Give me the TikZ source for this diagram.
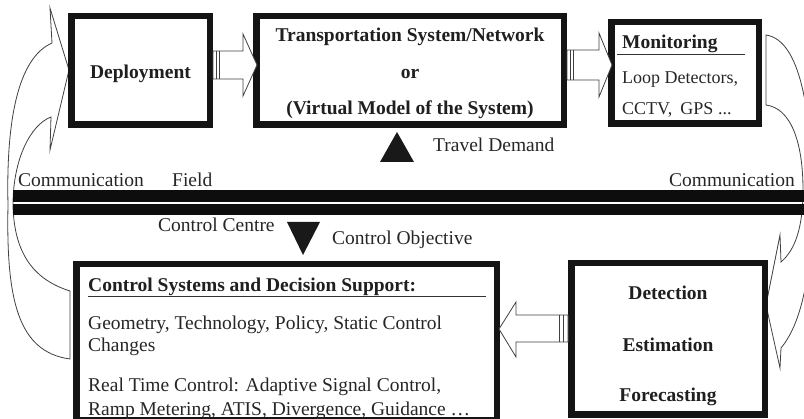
\documentclass[tikz,border=0pt]{standalone}
\usepackage{fontspec}
\setmainfont{Liberation Serif}
\begin{document}
\begin{tikzpicture}[x=1pt,y=-1pt,
  box/.style={draw=black!92, line width=6.5pt, inner sep=0pt, outer sep=0pt},
  hollow/.style={draw=black!75, line width=0.8pt, fill=white, line join=miter},
  stripe/.style={draw=black!75, line width=0.8pt},
  txt/.style={inner sep=0pt, text=black!85, font=\fontsize{19.5}{23}\selectfont},
  btxt/.style={inner sep=0pt, text=black!88, font=\fontsize{19.5}{23}\selectfont\bfseries},
  stxt/.style={inner sep=0pt, text=black!85, font=\fontsize{18}{21}\selectfont},
  underl/.style={draw=black!80, line width=1pt},
  pointer/.style={fill=black!90, draw=none},
  band/.style={fill=black!95, draw=none},
]
\useasboundingbox (0,0) rectangle (804,419);
\begin{scope}
\clip (0,0) rectangle (804,419);

% curved feedback arrow: control centre back to deployment
\draw[hollow] (70,291) .. controls (35,280) and (14,255) .. (13,205)
  .. controls (13,160) and (30,125) .. (51,117)
  -- (50,150) -- (69,70) -- (50,8) -- (52,43)
  .. controls (18,58) and (6,120) .. (8,205)
  .. controls (6,300) and (18,352) .. (70,359) -- cycle;

% curved arrow: monitoring down to detection
\draw[hollow] (766,35) -- (766,105)
  .. controls (790,108) and (803,140) .. (803,190)
  .. controls (803,228) and (795,250) .. (781,262)
  -- (780,235) -- (766,305) -- (780,368) -- (781,348)
  .. controls (800,325) and (812,280) .. (812,200)
  .. controls (812,110) and (800,40) .. (766,35) -- cycle;

% field / control centre divider
\fill[band] (13,190.5) rectangle (804,202);
\fill[band] (13,204.5) rectangle (804,215);

% boxes
\node[box, minimum width=138.5pt, minimum height=108.5pt] (deploy) at (140.5,70.5) {};
\node[box, minimum width=307.5pt, minimum height=108.5pt] (trans) at (410,70.5) {};
\node[box, minimum width=147.5pt, minimum height=101.5pt] (monit) at (685,73) {};
\node[box, minimum width=420.5pt, minimum height=156.5pt] (ctrl) at (286.5,342.5) {};
\node[box, minimum width=193.5pt, minimum height=151.5pt] (detect) at (668,339) {};

% block arrows between boxes
\draw[hollow] (213,51) -- (243,51) -- (243,34) -- (257,65) -- (243,96) -- (243,79) -- (213,79) -- cycle;
\draw[stripe] (216,51) -- (216,79) (219,51) -- (219,79);
\draw[hollow] (567,50) -- (599,50) -- (599,33) -- (612,65) -- (599,97) -- (599,80) -- (567,80) -- cycle;
\draw[stripe] (570,50) -- (570,80) (573,50) -- (573,80);
\draw[hollow] (568,315) -- (516,315) -- (516,302) -- (499,329) -- (516,357) -- (516,342) -- (568,342) -- cycle;
\draw[stripe] (563,315) -- (563,342) (559,315) -- (559,342);

% input / objective markers
\fill[pointer] (380,162) -- (414,162) -- (397,132) -- cycle;
\fill[pointer] (287,222) -- (320,222) -- (303,255) -- cycle;

% box texts
\node[btxt, anchor=base] (tdep) at (140.5,79) {Deployment};
\node[btxt, anchor=base] (tts1) at (410,42) {Transportation System/Network};
\node[btxt, anchor=base] (tts2) at (410,79) {or};
\node[btxt, anchor=base] (tts3) at (410,115) {(Virtual Model of the System)};

\node[btxt, anchor=base west] (tmon) at (622,49) {Monitoring};
\draw[underl] (617,55) -- (745,55);
\node[stxt, anchor=base west] (tmon1) at (622,84) {Loop Detectors,};
\node[stxt, anchor=base west] (tmon2) at (622,115) {CCTV,\hspace{0.45em}GPS ...};

\node[btxt, anchor=base west] (tcs) at (88,292) {Control Systems and Decision Support:};
\draw[underl] (88,297) -- (486,297);
\node[txt, anchor=base west] (tcs1) at (88,330) {Geometry, Technology, Policy, Static Control};
\node[txt, anchor=base west] (tcs2) at (88,352) {Changes};
\node[txt, anchor=base west] (tcs3) at (88,392) {Real Time Control: Adaptive Signal Control,};
\node[txt, anchor=base west] (tcs4) at (88,416) {Ramp Metering, ATIS, Divergence, Guidance …};

\node[btxt, anchor=base] (tdet1) at (668,300) {Detection};
\node[btxt, anchor=base] (tdet2) at (668,352) {Estimation};
\node[btxt, anchor=base] (tdet3) at (668,402) {Forecasting};

% free labels
\node[txt, anchor=base west] (ltd) at (433,152) {Travel Demand};
\node[txt, anchor=base west] (lcl) at (18,187) {Communication};
\node[txt, anchor=base west] (lfi) at (172,187) {Field};
\node[txt, anchor=base east] (lcr) at (795,187) {Communication};
\node[txt, anchor=base west] (lcc) at (158,232) {Control Centre};
\node[txt, anchor=base west] (lco) at (332,245) {Control Objective};
\end{scope}
\end{tikzpicture}
\end{document}
